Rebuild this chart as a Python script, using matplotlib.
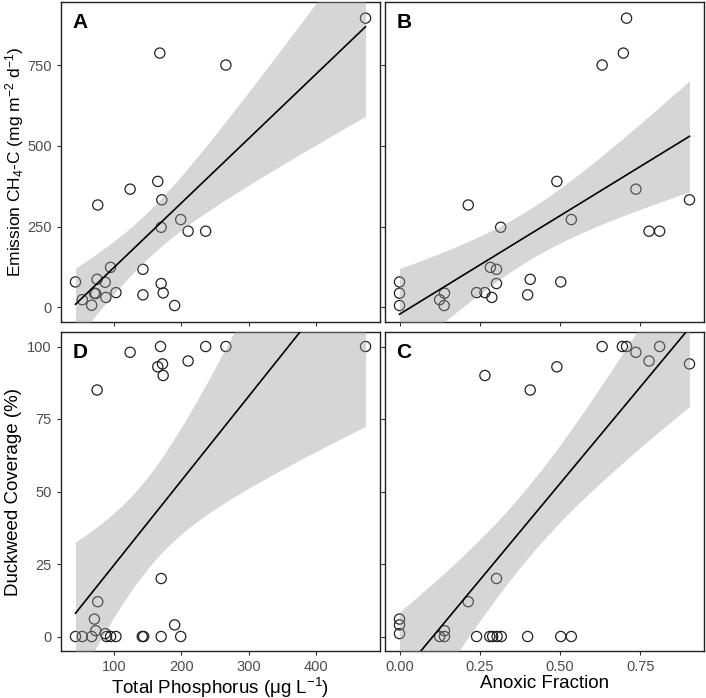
import numpy as np
import matplotlib
matplotlib.use("Agg")
import matplotlib.pyplot as plt

plt.rcParams['font.family'] = ['Liberation Sans', 'DejaVu Sans']
plt.rcParams['mathtext.fontset'] = 'custom'
plt.rcParams['mathtext.rm'] = 'Liberation Sans'
plt.rcParams['mathtext.it'] = 'Liberation Sans:italic'
plt.rcParams['mathtext.bf'] = 'Liberation Sans:bold'

# ---------------- data ----------------
# Panel A: total phosphorus vs CH4-C emission
tp_A = [43, 53, 67, 71, 73, 75, 76, 87, 88, 95, 103, 124, 143, 143, 165, 168,
        171, 170, 170, 173, 190, 199, 210, 236, 266, 473]
em_A = [79, 24, 7, 44, 43, 87, 317, 78, 31, 124, 46, 366, 118, 39, 390, 787,
        333, 248, 74, 45, 6, 272, 236, 236, 750, 895]

# Panel B: anoxic fraction vs CH4-C emission
af_B = [0, 0, 0, 0.125, 0.14, 0.139, 0.214, 0.24, 0.266, 0.283, 0.2875, 0.302,
        0.302, 0.315, 0.399, 0.407, 0.49, 0.502, 0.535, 0.631, 0.697, 0.707,
        0.736, 0.777, 0.810, 0.903]
em_B = [79, 44, 6, 24, 44, 6, 317, 46, 46, 124, 31, 118, 74, 248, 39, 87, 390,
        79, 272, 750, 787, 895, 366, 236, 236, 333]

# Panel D: total phosphorus vs duckweed coverage
tp_D = [43, 53, 67, 71, 73, 76, 75, 87, 89, 95, 103, 124, 142, 144, 165, 169,
        172, 173, 170, 170, 190, 199, 210, 236, 266, 473]
dw_D = [0, 0, 0, 6, 2, 12, 85, 1, 0, 0, 0, 98, 0, 0, 93, 100, 94, 90, 20, 0,
        4, 0, 95, 100, 100, 100]

# Panel C: anoxic fraction vs duckweed coverage
af_C = [0, 0, 0, 0.125, 0.14, 0.14, 0.214, 0.24, 0.266, 0.281, 0.29, 0.302,
        0.304, 0.317, 0.399, 0.407, 0.49, 0.502, 0.535, 0.631, 0.694, 0.707,
        0.736, 0.777, 0.81, 0.903]
dw_C = [6, 4, 1, 0, 2, 0, 12, 0, 90, 0, 0, 20, 0, 0, 0, 85, 93, 0, 0, 100, 100,
        100, 98, 95, 100, 94]

tp_ticks = [100, 200, 300, 400]
af_ticks = [0.00, 0.25, 0.50, 0.75]
af_ticklabels = ["0.00", "0.25", "0.50", "0.75"]
em_ticks = [0, 250, 500, 750]
dw_ticks = [0, 25, 50, 75, 100]

W, H = 706, 698
fig = plt.figure(figsize=(W / 100, H / 100), dpi=100)


def box(l, t, r, b):
    return [l / W, (H - b) / H, (r - l) / W, (b - t) / H]


axA = fig.add_axes(box(61, 2, 380, 322))
axB = fig.add_axes(box(385, 2, 704, 322))
axD = fig.add_axes(box(61, 332, 380, 651))
axC = fig.add_axes(box(385, 332, 704, 651))

T975 = 2.0639  # t quantile, df = 24


def lm_panel(ax, x, y, letter):
    x = np.asarray(x, float)
    y = np.asarray(y, float)
    ax.scatter(x, y, s=54, facecolors='none', edgecolors='#222222',
               linewidths=0.9, zorder=2)
    n = len(x)
    b1, b0 = np.polyfit(x, y, 1)
    xs = np.linspace(x.min(), x.max(), 200)
    yh = b0 + b1 * xs
    resid = y - (b0 + b1 * x)
    s = np.sqrt(np.sum(resid ** 2) / (n - 2))
    sxx = np.sum((x - x.mean()) ** 2)
    se = s * np.sqrt(1 / n + (xs - x.mean()) ** 2 / sxx)
    ax.fill_between(xs, yh - T975 * se, yh + T975 * se, color='#999999',
                    alpha=0.4, linewidth=0, zorder=3)
    ax.plot(xs, yh, color='black', linewidth=1.2, zorder=4)
    ax.text(0.035, 0.965, letter, transform=ax.transAxes, fontsize=15,
            fontweight='bold', va='top', ha='left', zorder=5)
    for sp in ax.spines.values():
        sp.set_linewidth(1.0)
        sp.set_color('#222222')
    ax.tick_params(direction='out', length=3, width=0.8, color='#333333',
                   labelcolor='#4D4D4D', labelsize=10.5)


def xlim_of(v):
    v = np.asarray(v, float)
    r = v.max() - v.min()
    return v.min() - 0.05 * r, v.max() + 0.05 * r


lm_panel(axA, tp_A, em_A, 'A')
lm_panel(axB, af_B, em_B, 'B')
lm_panel(axD, tp_D, dw_D, 'D')
lm_panel(axC, af_C, dw_C, 'C')

for ax in (axA, axD):
    ax.set_xlim(*xlim_of(tp_A))
    ax.set_xticks(tp_ticks)
for ax in (axB, axC):
    ax.set_xlim(*xlim_of(af_B))
    ax.set_xticks(af_ticks)
for ax in (axA, axB):
    ax.set_ylim(-45, 945)
    ax.set_yticks(em_ticks)
for ax in (axD, axC):
    ax.set_ylim(-5, 105)
    ax.set_yticks(dw_ticks)

axA.tick_params(labelbottom=False)
axB.tick_params(labelbottom=False, labelleft=False)
axC.tick_params(labelleft=False)
axC.set_xticklabels(af_ticklabels)

fig.text(15 / W, 1 - 162 / H, r'Emission CH$_4$-C (mg m$^{-2}$ d$^{-1}$)',
         fontsize=12.5, rotation=90, ha='center', va='center')
axD.set_ylabel('Duckweed Coverage (%)', fontsize=13.5, labelpad=4)
axD.set_xlabel(r'Total Phosphorus (μg L$^{-1}$)', fontsize=13.5, labelpad=1)
axC.set_xlabel('Anoxic Fraction', fontsize=13.5, labelpad=1)

fig.savefig('out.png', dpi=100)
